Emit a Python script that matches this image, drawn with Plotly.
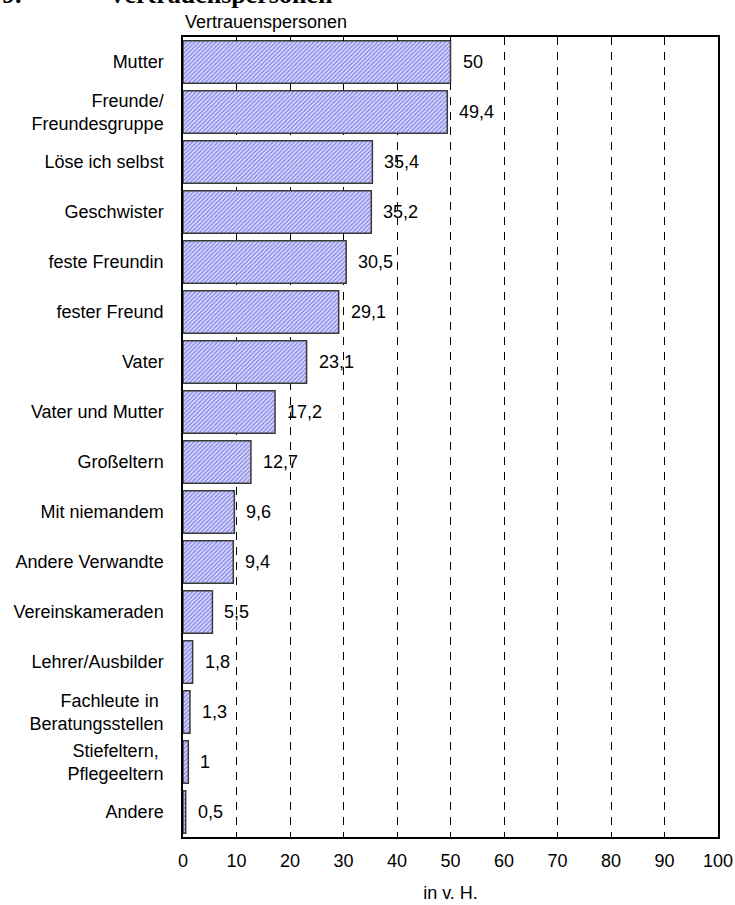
import plotly.graph_objects as go

categories = [
    "Mutter", "Freunde/<br>Freundesgruppe", "Löse ich selbst", "Geschwister",
    "feste Freundin", "fester Freund", "Vater", "Vater und Mutter",
    "Großeltern", "Mit niemandem", "Andere Verwandte", "Vereinskameraden",
    "Lehrer/Ausbilder", "Fachleute in\u00a0<br>Beratungsstellen",
    "Stiefeltern,\u00a0<br>Pflegeeltern", "Andere",
]
values = [50, 49.4, 35.4, 35.2, 30.5, 29.1, 23.1, 17.2, 12.7, 9.6, 9.4, 5.5,
          1.8, 1.3, 1, 0.5]
labels = [f"{v:g}".replace(".", ",") for v in values]

FONT = "Liberation Sans, Arial, sans-serif"
SIZE = 18

fig = go.Figure()

# hatched bars
fig.add_trace(go.Bar(
    x=values, y=categories, orientation="h",
    marker=dict(
        color="#d0d0ff",
        line=dict(color="#3a3a3a", width=1.5),
        pattern=dict(shape="/", fgcolor="#3030c8", bgcolor="#dcdcff",
                     size=3, solidity=0.45),
    ),
    hoverinfo="skip", showlegend=False,
))

# value labels right of the bars
for v, c, t in zip(values, categories, labels):
    fig.add_annotation(x=v, y=c, text=t, showarrow=False, xanchor="left",
                       xshift=10, font=dict(family=FONT, size=SIZE, color="black"))

fig.add_annotation(xref="paper", yref="paper", x=0, y=1.0035, text="Vertrauenspersonen",
                   showarrow=False, xanchor="left", yanchor="bottom",
                   font=dict(family=FONT, size=SIZE, color="black"))
# page heading, cut off at the top edge as in the original
fig.add_annotation(xref="paper", yref="paper", x=-0.342, y=1.033, text="<b>9.</b>",
                   showarrow=False, xanchor="left", yanchor="bottom",
                   font=dict(family="Liberation Serif, Times New Roman, serif", size=26, color="black"))
fig.add_annotation(xref="paper", yref="paper", x=-0.144, y=1.033, text="<b>Vertrauenspersonen</b>",
                   showarrow=False, xanchor="left", yanchor="bottom",
                   font=dict(family="Liberation Serif, Times New Roman, serif", size=26, color="black"))

fig.update_layout(
    width=735, height=905,
    margin=dict(l=183, r=17, t=37, b=68),
    paper_bgcolor="white", plot_bgcolor="white",
    bargap=0.15,
    font=dict(family=FONT, size=SIZE, color="black"),
    xaxis=dict(
        range=[0, 100], dtick=10, tick0=0, automargin=False,
        showgrid=True, gridcolor="black", gridwidth=1, griddash="8px,7px",
        showline=True, linecolor="black", linewidth=1.5, mirror="ticks",
        ticks="inside", ticklen=4, tickcolor="black",
        zeroline=False, ticklabelstandoff=7,
        title=dict(text="in v. H.", standoff=16, font=dict(size=SIZE)),
    ),
    yaxis=dict(
        autorange="reversed", automargin=False,
        showline=True, linecolor="black", linewidth=1.5, mirror=True,
        ticks="", showgrid=False, ticklabelstandoff=14,
    ),
)

fig.write_html("out.html", config={"displayModeBar": False},
               post_script="document.body.style.margin='0';")
